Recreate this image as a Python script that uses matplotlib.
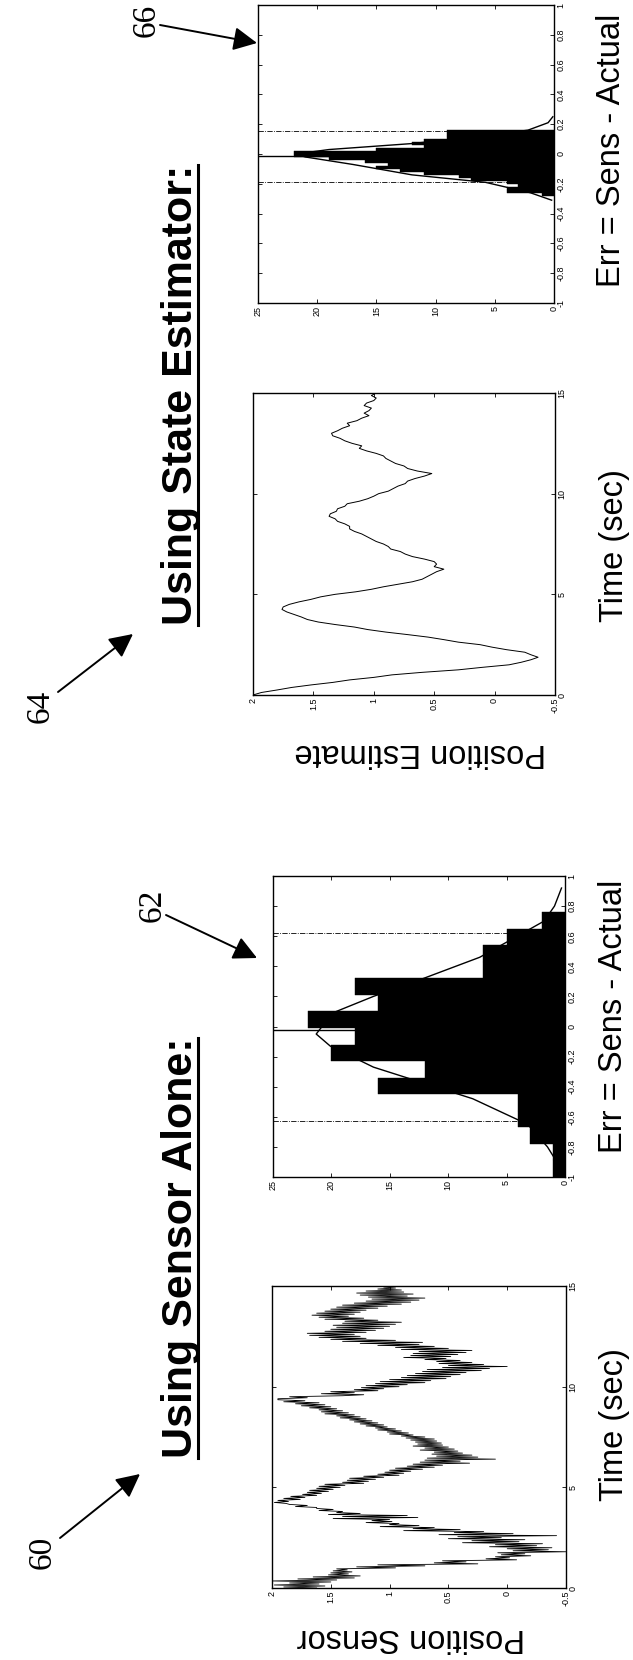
import matplotlib
matplotlib.use("Agg")
import matplotlib.pyplot as plt
import numpy as np
from matplotlib.lines import Line2D

W, H = 633, 1660

# sensor alone: position vs time (0.05 s apart)
sensor_pos = [1.62, 1.90, 1.55, 1.98, 1.60, 1.85, 1.50, 2.0,
              1.45, 1.78, 1.30, 1.65, 1.25, 1.52, 1.35, 1.50,
              1.32, 1.48, 1.36, 1.45, 0.95, 1.28, 0.70, 1.10,
              0.25, 0.62, 0.35, 0.55, -0.08, 0.18, -0.02, 0.10,
              -0.20, 0.05, -0.15, 0.08, -0.50, -0.05, -0.35, 0.0,
              -0.38, 0.15, -0.25, 0.10, -0.30, 0.38, -0.10, 0.30,
              -0.15, 0.50, 0.05, 0.42, -0.42, 0.58, -0.05, 0.45,
              0.20, 0.88, 0.40, 0.80, 0.62, 1.08, 0.75, 1.00,
              0.92, 1.20, 0.98, 1.15, 1.00, 1.48, 0.76, 1.40,
              0.85, 1.52, 1.25, 1.45, 1.40, 1.60, 1.48, 1.62,
              1.62, 1.80, 1.70, 1.85, 1.88, 1.98, 1.86, 1.95,
              1.76, 1.90, 1.72, 1.84, 1.62, 1.74, 1.58, 1.70,
              1.52, 1.68, 1.48, 1.62, 1.42, 1.60, 1.38, 1.55,
              1.22, 1.40, 1.18, 1.36, 1.12, 1.34, 1.05, 1.22,
              0.92, 1.10, 0.88, 1.04, 0.82, 1.00, 0.72, 0.95,
              0.62, 0.85, 0.55, 0.80, 0.32, 0.74, 0.40, 0.70,
              0.10, 0.68, 0.25, 0.60, 0.30, 0.64, 0.38, 0.62,
              0.42, 0.74, 0.45, 0.70, 0.50, 0.80, 0.55, 0.76,
              0.56, 0.78, 0.60, 0.82, 0.62, 0.86, 0.70, 0.90,
              0.80, 1.00, 0.84, 1.02, 0.90, 1.10, 0.95, 1.12,
              1.02, 1.20, 1.05, 1.25, 1.10, 1.30, 1.15, 1.34,
              1.20, 1.42, 1.25, 1.45, 1.30, 1.55, 1.35, 1.58,
              1.40, 1.60, 1.45, 1.68, 1.50, 1.75, 1.55, 1.80,
              1.60, 1.90, 1.72, 1.95, 1.95, 1.70, 1.85, 1.40,
              1.22, 1.58, 1.30, 1.50, 1.10, 1.30, 1.05, 1.24,
              0.92, 1.20, 0.85, 1.12, 0.70, 1.08, 0.65, 1.00,
              0.52, 0.90, 0.48, 0.85, 0.40, 0.78, 0.35, 0.72,
              0.22, 0.68, 0.15, 0.55, 0.00, 0.50, 0.20, 0.58,
              0.30, 0.60, 0.40, 0.70, 0.52, 0.88, 0.48, 0.82,
              0.42, 0.80, 0.35, 0.75, 0.30, 0.90, 0.50, 0.95,
              0.62, 1.10, 0.75, 1.25, 0.72, 1.40, 0.95, 1.50,
              1.20, 1.60, 1.25, 1.68, 1.30, 1.70, 1.20, 1.55,
              1.12, 1.50, 1.05, 1.45, 1.00, 1.48, 0.95, 1.40,
              0.90, 1.38, 1.10, 1.55, 1.22, 1.60, 1.35, 1.66,
              1.30, 1.62, 1.25, 1.55, 1.20, 1.50, 1.10, 1.45,
              1.02, 1.40, 0.90, 1.30, 0.82, 1.20, 0.75, 1.15,
              0.70, 1.18, 0.85, 1.25, 0.80, 1.28, 0.88, 1.20,
              0.90, 1.10, 0.95, 1.05, 0.98]
sensor_t = np.linspace(0, 15, len(sensor_pos))

# state estimator: position estimate vs time (0.125 s apart)
est_pos = [2.0, 1.93, 1.80, 1.68, 1.52, 1.34, 1.20, 1.00, 0.85, 0.60,
           0.30, 0.10, -0.12, -0.22, -0.30, -0.36, -0.30, -0.25, -0.10, 0.02,
           0.12, 0.30, 0.42, 0.55, 0.72, 0.90, 1.05, 1.16, 1.32, 1.46,
           1.55, 1.60, 1.66, 1.72, 1.76, 1.75, 1.70, 1.62, 1.52, 1.44,
           1.32, 1.15, 1.02, 0.92, 0.80, 0.68, 0.60, 0.56, 0.52, 0.48,
           0.42, 0.50, 0.48, 0.50, 0.58, 0.68, 0.74, 0.78, 0.86, 0.88,
           0.92, 0.98, 1.02, 1.06, 1.10, 1.16, 1.20, 1.20, 1.24, 1.30,
           1.32, 1.37, 1.36, 1.31, 1.30, 1.24, 1.22, 1.12, 1.05, 1.00,
           0.96, 0.88, 0.84, 0.80, 0.74, 0.72, 0.66, 0.58, 0.52, 0.64,
           0.72, 0.75, 0.82, 0.86, 0.90, 0.92, 0.98, 1.06, 1.12, 1.10,
           1.18, 1.24, 1.28, 1.34, 1.35, 1.30, 1.26, 1.20, 1.22, 1.14,
           1.10, 1.04, 1.08, 1.04, 1.02, 1.08, 1.06, 1.00, 0.98, 1.02, 0.98]
est_t = np.linspace(0, 15, len(est_pos))

# error histograms (bin centre, count) and fitted curves
sens_bins = [0.705, 0.595, 0.485, 0.375, 0.265, 0.155, 0.045, -0.065,
             -0.175, -0.285, -0.395, -0.505, -0.615, -0.725, -0.835, -0.945]
sens_counts = [2, 5, 7, 7, 18, 16, 22, 18, 20, 12, 16, 4, 4, 3, 1, 1]
sens_fit_err = [-0.95, -0.8, -0.65, -0.48, -0.27, -0.13, -0.05, 0.09, 0.2,
                0.32, 0.46, 0.7, 0.8, 0.92]
sens_fit_cnt = [0.3, 1.5, 3.2, 7.9, 16.4, 20.1, 21.3, 19.9, 16.4, 12.1, 7.3,
                1.8, 0.9, 0.3]
sens_bounds = [0.62, -0.63]
sens_mean = -0.02

est_bins = [0.15, 0.13, 0.11, 0.09, 0.07, 0.05, 0.03, 0.01, -0.01, -0.03,
            -0.05, -0.07, -0.09, -0.11, -0.13, -0.15, -0.17, -0.19, -0.21,
            -0.23, -0.25, -0.27]
est_counts = [9, 9, 9, 11, 12, 11, 15, 22, 22, 19, 16, 14, 15, 13, 11, 8, 7,
              4, 3, 4, 4, 1]
est_fit_err = [-0.31, -0.26, -0.19, -0.14, -0.07, -0.02, 0.0, 0.03, 0.07,
               0.12, 0.16, 0.21, 0.25]
est_fit_cnt = [0.2, 2.0, 5.8, 12.0, 17.0, 21.0, 21.8, 19.0, 12.0, 6.0, 2.2,
               0.5, 0.1]
est_bounds = [0.155, -0.19]
est_mean = -0.015

pos_ticks = [-0.5, 0, 0.5, 1, 1.5, 2]
pos_labels = ['-0.5', '0', '0.5', '1', '1.5', '2']
time_ticks = [0, 5, 10, 15]
err_ticks = [-1, -0.8, -0.6, -0.4, -0.2, 0, 0.2, 0.4, 0.6, 0.8, 1]
err_labels = ['-1', '-0.8', '-0.6', '-0.4', '-0.2', '0', '0.2', '0.4', '0.6', '0.8', '1']
cnt_ticks = [0, 5, 10, 15, 20, 25]

plt.rcParams['font.family'] = ['Liberation Sans', 'DejaVu Sans']

fig = plt.figure(figsize=(W / 100, H / 100), dpi=100)
fig.patch.set_facecolor('white')

# overlay in page pixels for titles / callouts
over = fig.add_axes([0, 0, 1, 1])
over.set_xlim(0, W)
over.set_ylim(H, 0)
over.axis('off')


def px_axes(x0, y0, x1, y1):
    return fig.add_axes([x0 / W, 1 - y1 / H, (x1 - x0) / W, (y1 - y0) / H])


def matlab_style(ax):
    ax.tick_params(direction='in', top=True, right=True, left=True, bottom=True,
                   labelbottom=True, labelright=True, labelleft=False,
                   labeltop=False, length=3, width=0.6, labelsize=6.5, pad=2)
    for s in ax.spines.values():
        s.set_linewidth(1.0)
    for lab in ax.get_xticklabels() + ax.get_yticklabels():
        lab.set_rotation(90)
    for lab in ax.get_yticklabels():
        lab.set_va('center')


def time_plot(ax, t, pos, lw):
    ax.plot(pos, t, color='black', lw=lw)
    ax.set_xlim(2, -0.5)
    ax.set_ylim(0, 15)
    ax.set_xticks(pos_ticks, pos_labels)
    ax.set_yticks(time_ticks)
    matlab_style(ax)


def err_hist(ax, bins, counts, binw, fit_e, fit_c, bounds, mean):
    ax.barh(bins, counts, height=binw, color='black', edgecolor='black', lw=0.3)
    ax.plot(fit_c, fit_e, color='black', lw=1.0)
    ax.axhline(bounds[0], color='black', lw=0.6, ls='-.')
    ax.axhline(bounds[1], color='black', lw=0.6, ls='-.')
    ax.axhline(mean, color='black', lw=1.0)
    ax.set_xlim(25, 0)
    ax.set_ylim(-1, 1)
    ax.set_xticks(cnt_ticks)
    ax.set_yticks(err_ticks, err_labels)
    matlab_style(ax)


ax1 = px_axes(272, 1286, 566, 1588)
time_plot(ax1, sensor_t, sensor_pos, 0.6)
ax2 = px_axes(273, 876, 565, 1177)
err_hist(ax2, sens_bins, sens_counts, 0.11, sens_fit_err, sens_fit_cnt,
         sens_bounds, sens_mean)
ax3 = px_axes(253, 393, 555, 695)
time_plot(ax3, est_t, est_pos, 0.7)
ax4 = px_axes(258, 5, 554, 303)
err_hist(ax4, est_bins, est_counts, 0.02, est_fit_err, est_fit_cnt,
         est_bounds, est_mean)

lab_kw = dict(fontsize=23.5, ha='center', va='center')
over.text(411, 1637, 'Position Sensor', rotation=180, **lab_kw)
over.text(615, 1425, 'Time (sec)', rotation=90, **lab_kw)
over.text(613, 1016, 'Err = Sens - Actual', rotation=90, **lab_kw)
over.text(420, 752, 'Position Estimate', rotation=180, **lab_kw)
over.text(615, 546, 'Time (sec)', rotation=90, **lab_kw)
over.text(612, 150, 'Err = Sens - Actual', rotation=90, **lab_kw)

# section titles (bold, underlined)
title_kw = dict(fontsize=31, fontweight='bold', rotation=90, ha='center',
                va='center')
t1 = over.text(181, 1248, 'Using Sensor Alone:', **title_kw)
t2 = over.text(181, 395, 'Using State Estimator:', **title_kw)

# reference numerals with arrows
num_kw = dict(fontsize=24, rotation=90, ha='center', va='center',
              family=['Liberation Serif', 'DejaVu Serif'])
arr_kw = dict(arrowstyle='-|>,head_length=0.9,head_width=0.45', color='black',
              lw=1.4, shrinkA=0, shrinkB=0)
callouts = [('60', (42, 1552), (60, 1538), (140, 1474)),
            ('62', (152, 905), (166, 915), (257, 958)),
            ('64', (40, 706), (58, 692), (133, 634)),
            ('66', (146, 20), (160, 25), (257, 43))]
for txt, tpos, tail, tip in callouts:
    over.text(tpos[0], tpos[1], txt, **num_kw)
    over.annotate('', xy=tip, xytext=tail, arrowprops=dict(mutation_scale=16, **arr_kw))

fig.canvas.draw()
for t in (t1, t2):
    bb = t.get_window_extent()
    xu = (bb.x0 + 0.93 * (bb.x1 - bb.x0)) / W
    fig.add_artist(Line2D([xu, xu], [bb.y0 / H, bb.y1 / H], color='black', lw=2.2))

fig.savefig('out.png', dpi=100)
